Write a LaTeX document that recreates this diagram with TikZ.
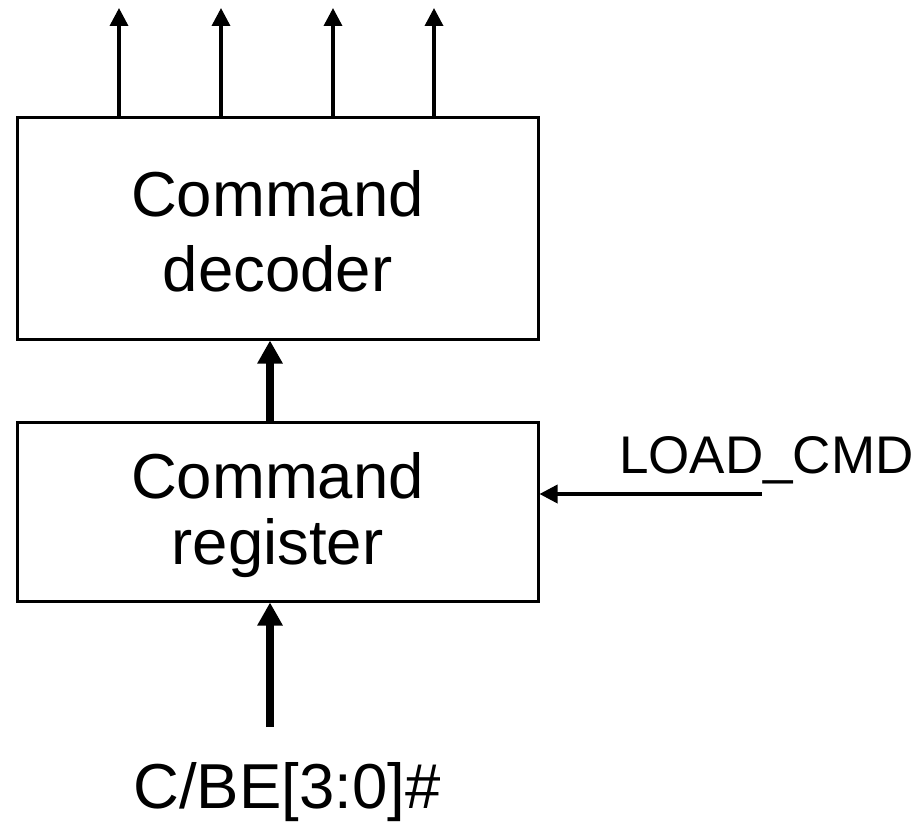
\documentclass[tikz,border=0pt]{standalone}
\usepackage{fontspec}
\setmainfont{Liberation Sans}
\usetikzlibrary{arrows.meta}
\begin{document}
\begin{tikzpicture}[x=1pt,y=-1pt,
  blockbox/.style={draw,line width=3pt,minimum width=521pt,inner sep=0pt},
  blocktext/.style={inner sep=0pt,align=center},
  thin arrow/.style={line width=3.5pt,-{Triangle[length=18pt,width=18pt]}},
  bus arrow/.style={line width=8pt,-{Triangle[length=23pt,width=24pt]}},
  label text/.style={inner sep=0pt}]
\useasboundingbox (0,0) rectangle (920,824);

% blocks
\node[blockbox,minimum height=221pt] (dec) at (277.5,228.5) {};
\node[blocktext,font=\fontsize{63.5}{75}\selectfont]
  (dectxt) at ([yshift=-3pt]dec.center) {Command\\decoder};
\node[blockbox,minimum height=179pt] (reg) at (277.5,511.5) {};
\node[blocktext,font=\fontsize{63.5}{66}\selectfont]
  (regtxt) at ([yshift=-4pt]reg.center) {Command\\register};

% decoder outputs
\coordinate (t1) at (119,8);
\coordinate (t2) at (221,8);
\coordinate (t3) at (333,8);
\coordinate (t4) at (434,8);
\foreach \t in {t1,t2,t3,t4}
  \draw[thin arrow] (\t |- dec.north) -- (\t);

% register to decoder bus
\coordinate (bx) at (270,0);
\draw[bus arrow] (reg.north -| bx) -- (dec.south -| bx);

% input bus
\coordinate (bin) at (270,727);
\draw[bus arrow] (bin) -- (bin |- reg.south);
\node[label text,anchor=base,font=\fontsize{63.5}{70}\selectfont] (cbe) at (287,808) {C/BE[3:0]\#};

% load strobe
\node[label text,anchor=base west,font=\fontsize{53}{56}\selectfont] (ldlab) at (619,473) {LOAD\_CMD};
\coordinate (ld) at (762,494);
\draw[thin arrow] (ld) -- (ld -| reg.east);
\end{tikzpicture}
\end{document}
